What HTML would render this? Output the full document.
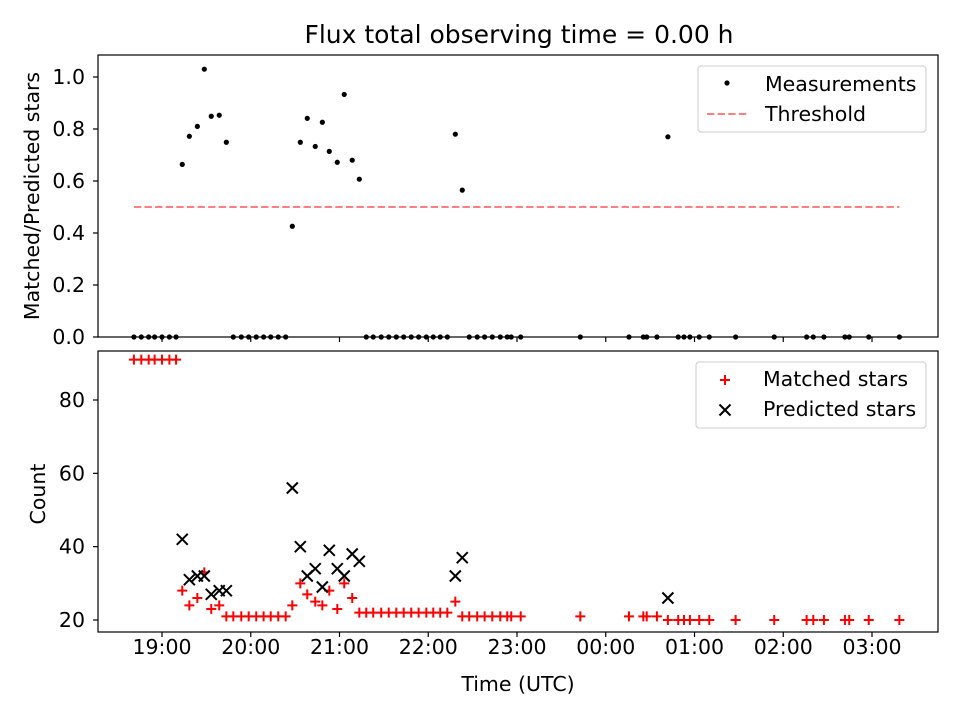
<!DOCTYPE html>
<html><head><meta charset="utf-8"><style>
body{margin:0;background:#fff;}
svg{display:block;font-family:"DejaVu Sans","Liberation Sans",sans-serif;}
</style></head><body>
<svg id="chart" width="960" height="720" viewBox="0 0 960 720"></svg>
<script>
// minutes since 18:00 UTC
const times = [41,46,51,55,60,65,69.5,73.7,78.5,83.9,88.6,93.3,98.7,103.5,108.2,113.6,118.6,123.7,128.7,133.5,138.6,143.6,148.1,153.5,158.2,163.6,168.4,173.1,178.5,183.2,188.6,193.4,198.1,202.8,208.2,213.3,218.4,223.4,228.5,233.5,238.7,243.4,248.1,252.9,258.3,263.0,267.7,273.1,278.1,283.3,288.7,293.4,296.1,302.5,342.8,375.7,385.4,387.7,394.6,402,409,412.9,416.9,423.2,430,447.8,473.9,495.8,500.3,507.5,521.7,524.6,537.8,558.5];
const ratios = [0,0,0,0,0,0,0,0.664,0.772,0.81,1.03,0.849,0.853,0.749,0,0,0,0,0,0,0,0,0.426,0.749,0.841,0.733,0.826,0.714,0.672,0.933,0.68,0.607,0,0,0,0,0,0,0,0,0,0,0,0,0.78,0.565,0,0,0,0,0,0,0,0,0,0,0,0,0,0.77,0,0,0,0,0,0,0,0,0,0,0,0,0,0];
const matched = [91,91,91,91,91,91,91,28,24,26,33,23,24,21,21,21,21,21,21,21,21,21,24,30,27,25,24,28,23,30,26,22,22,22,22,22,22,22,22,22,22,22,22,22,25,21,21,21,21,21,21,21,21,21,21,21,21,21,21,20,20,20,20,20,20,20,20,20,20,20,20,20,20,20];
const predicted = [null,null,null,null,null,null,null,42,31,32,32,27,28,28,null,null,null,null,null,null,null,null,56,40,32,34,29,39,34,32,38,36,null,null,null,null,null,null,null,null,null,null,null,null,32,37,null,null,null,null,null,null,null,null,null,null,null,null,null,26,null,null,null,null,null,null,null,null,null,null,null,null,null,null];
const threshold = 0.5;
const xTickLabels = ["19:00","20:00","21:00","22:00","23:00","00:00","01:00","02:00","03:00"];
const xTickMins = [60,120,180,240,300,360,420,480,540];
const topTicks = [0,0.2,0.4,0.6,0.8,1.0];
const botTicks = [20,40,60,80];

const NS="http://www.w3.org/2000/svg";
const svg=document.getElementById('chart');
function el(tag,attrs,parent){const e=document.createElementNS(NS,tag);for(const k in attrs)e.setAttribute(k,attrs[k]);(parent||svg).appendChild(e);return e;}
const L=98,R=938,T1=55,B1=337,T2=351,B2=632;
const FS='20.5';
const xS=m=>162+(m-60)*88.75/60;
const y1=v=>337-v*260;
const y2=v=>620-(v-20)*220/60;

let t=el('text',{x:519,y:43,'font-size':'25','text-anchor':'middle'});t.textContent='Flux total observing time = 0.00 h';



// top panel
const g1=el('g',{});


const th=el('line',{x1:xS(times[0]),x2:xS(times[times.length-1]),y1:y1(threshold),y2:y1(threshold),stroke:'#ff7f7f','stroke-width':2,'stroke-dasharray':'7.4,3.2'},g1);


times.forEach((m,i)=>{const c=el('circle',{cx:xS(m),cy:y1(ratios[i]),r:2.6,fill:'#000'},g1);

});
el('rect',{x:L,y:T1,width:R-L,height:B1-T1,fill:'none',stroke:'#000','stroke-width':1.2},g1);
topTicks.forEach(v=>{el('line',{x1:L-5,x2:L,y1:y1(v),y2:y1(v),stroke:'#000','stroke-width':1.2},g1);
const tx=el('text',{x:L-13,y:y1(v)+7,'font-size':FS,'text-anchor':'end'},g1);tx.textContent=v.toFixed(1);

});
xTickMins.forEach(m=>el('line',{x1:xS(m),x2:xS(m),y1:B1,y2:B1+5,stroke:'#000','stroke-width':1.2},g1));
t=el('text',{x:39,y:196,'font-size':FS,'text-anchor':'middle',transform:'rotate(-90 39 196)'},g1);t.textContent='Matched/Predicted stars';


// legend top
const lg1=el('g',{},g1);


el('rect',{x:698,y:66,width:228,height:66,rx:3,fill:'#fff',stroke:'#ccc'},lg1);
el('circle',{cx:727,cy:83,r:2.6,fill:'#000'},lg1);
t=el('text',{x:765,y:91,'font-size':FS},lg1);t.textContent='Measurements';
el('line',{x1:707,x2:747,y1:114,y2:114,stroke:'#ff7f7f','stroke-width':2,'stroke-dasharray':'7.4,3.2'},lg1);
t=el('text',{x:765,y:121,'font-size':FS},lg1);t.textContent='Threshold';

// bottom panel
const g2=el('g',{});


function plus(x,y,p,c){el('path',{d:`M${x-5},${y}H${x+5}M${x},${y-5}V${y+5}`,stroke:c,'stroke-width':2},p);}
function cross(x,y,p,c){el('path',{d:`M${x-5.5},${y-5.5}L${x+5.5},${y+5.5}M${x-5.5},${y+5.5}L${x+5.5},${y-5.5}`,stroke:c,'stroke-width':2},p);}
times.forEach((m,i)=>{plus(xS(m),y2(matched[i]),g2,'#f00');});
times.forEach((m,i)=>{if(predicted[i]!=null&&y2(predicted[i])<B2)cross(xS(m),y2(predicted[i]),g2,'#000');});
el('rect',{x:L,y:T2,width:R-L,height:B2-T2,fill:'none',stroke:'#000','stroke-width':1.2},g2);
botTicks.forEach(v=>{el('line',{x1:L-5,x2:L,y1:y2(v),y2:y2(v),stroke:'#000','stroke-width':1.2},g2);
const tx=el('text',{x:L-13,y:y2(v)+7,'font-size':FS,'text-anchor':'end'},g2);tx.textContent=v;

});
xTickMins.forEach((m,i)=>{el('line',{x1:xS(m),x2:xS(m),y1:B2,y2:B2+5,stroke:'#000','stroke-width':1.2},g2);
const tx=el('text',{x:xS(m),y:B2+22,'font-size':FS,'text-anchor':'middle'},g2);tx.textContent=xTickLabels[i];

});
t=el('text',{x:45,y:494,'font-size':FS,'text-anchor':'middle',transform:'rotate(-90 45 494)'},g2);t.textContent='Count';


t=el('text',{x:518,y:691,'font-size':FS,'text-anchor':'middle'},g2);t.textContent='Time (UTC)';


const lg2=el('g',{},g2);


el('rect',{x:696,y:362,width:230,height:66,rx:3,fill:'#fff',stroke:'#ccc'},lg2);
plus(725,380,lg2,'#f00');
t=el('text',{x:763,y:386,'font-size':FS},lg2);t.textContent='Matched stars';
cross(725,410,lg2,'#000');
t=el('text',{x:763,y:416,'font-size':FS},lg2);t.textContent='Predicted stars';
</script>
</body></html>
